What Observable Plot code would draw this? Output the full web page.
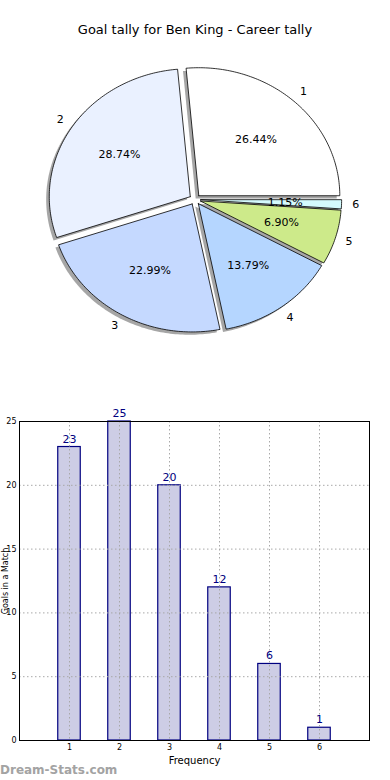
<!DOCTYPE html>
<html>
<head>
<meta charset="utf-8">
<script src="https://cdn.jsdelivr.net/npm/d3@7"></script>
<script src="https://cdn.jsdelivr.net/npm/@observablehq/plot@0.6"></script>
<style>
  html, body { margin: 0; padding: 0; background: #fff; }
  #page { position: relative; width: 390px; height: 780px; overflow: hidden; font-family: "DejaVu Sans", sans-serif; }
  #title { position: absolute; left: 0; top: 22px; width: 390px; text-align: center; font-size: 13px; line-height: 16px; color: #000; }
  #pie { position: absolute; left: 0; top: 0; }
  #bars { position: absolute; left: 0; top: 380px; }
  #ylabel { position: absolute; left: 5px; top: 581px; transform: translate(-50%, -50%) rotate(-90deg); font-size: 8px; line-height: 9px; white-space: nowrap; color: #000; }
  #mark { position: absolute; left: 0px; top: 763px; font-size: 12px; font-weight: bold; color: #a3a3a3; }
</style>
</head>
<body>
<div id="page">
  <div id="pie"></div>
  <div id="bars"></div>
  <div id="title">Goal tally for Ben King - Career tally</div>
  <div id="ylabel">Goals in a Match</div>
  <div id="mark">Dream-Stats.com</div>
</div>
<script>
// ---- data ----
const goalCounts = ["1", "2", "3", "4", "5", "6"];
const frequency = [23, 25, 20, 12, 6, 1];
const sliceColors = ["#ffffff", "#eaf1ff", "#c5d9ff", "#b5d6ff", "#cdea8a", "#d4fafd"];
const yTicks = [0, 5, 10, 15, 20, 25];

// ---- pie geometry (matplotlib-style: start east, counter-clockwise) ----
const total = d3.sum(frequency);
const explode = 0.04;
const sliceRows = [];
const shadowRows = [];
const labelRows = [];
const pctRows = [];
let acc = 0;
frequency.forEach((v, i) => {
  const a0 = acc / total * 2 * Math.PI;
  acc += v;
  const a1 = acc / total * 2 * Math.PI;
  const mid = (a0 + a1) / 2;
  const ox = explode * Math.cos(mid), oy = explode * Math.sin(mid);
  const n = Math.max(4, Math.ceil((a1 - a0) / (Math.PI / 180)));
  const pts = [[ox, oy]];
  for (let k = 0; k <= n; k++) {
    const a = a0 + (a1 - a0) * k / n;
    pts.push([ox + Math.cos(a), oy + Math.sin(a)]);
  }
  pts.push([ox, oy]);
  pts.forEach(([x, y]) => {
    sliceRows.push({slice: goalCounts[i], x, y});
    shadowRows.push({slice: goalCounts[i], x: x - 0.022, y: y - 0.022});
  });
  labelRows.push({text: goalCounts[i], x: ox + 1.1 * Math.cos(mid), y: oy + 1.1 * Math.sin(mid)});
  pctRows.push({text: (v / total * 100).toFixed(2) + "%", x: ox + 0.6 * Math.cos(mid), y: oy + 0.6 * Math.sin(mid)});
});

const cx = 194.5, cy = 199, sx = 141, sy = 128, pieH = 380;
const pie = Plot.plot({
  width: 390, height: pieH,
  margin: 0,
  x: {axis: null, domain: [-cx / sx, (390 - cx) / sx]},
  y: {axis: null, domain: [-(pieH - cy) / sy, cy / sy]},
  color: {domain: goalCounts, range: sliceColors},
  style: {fontFamily: "DejaVu Sans", fontSize: "11px", background: "transparent"},
  marks: [
    Plot.line(shadowRows, {x: "x", y: "y", z: "slice", fill: "#4d4d4d", fillOpacity: 0.5, stroke: "none"}),
    Plot.line(sliceRows, {x: "x", y: "y", z: "slice", fill: "slice", stroke: "#000", strokeWidth: 0.8, strokeLinejoin: "round"}),
    Plot.text(labelRows, {x: "x", y: "y", text: "text", fill: "#000", fontSize: 11}),
    Plot.text(pctRows, {x: "x", y: "y", text: "text", fill: "#000", fontSize: 11})
  ]
});
document.getElementById("pie").appendChild(pie);

// ---- bar chart ----
const barRows = frequency.map((v, i) => ({k: +goalCounts[i], v}));
const bars = Plot.plot({
  width: 390, height: 400,
  marginTop: 41, marginBottom: 40, marginLeft: 19, marginRight: 21,
  x: {domain: [0, 7], axis: null},
  y: {domain: [0, 25], axis: null},
  style: {fontFamily: "DejaVu Sans", fontSize: "8px", background: "transparent"},
  marks: [
    Plot.rect(barRows, {x1: d => d.k - 0.225, x2: d => d.k + 0.225, y1: 0, y2: "v", fill: "#cdcde5", stroke: "#000080", strokeWidth: 1.2}),
    Plot.ruleX(goalCounts.map(Number), {stroke: "#a8a8a8", strokeDasharray: "1.5,2.5", strokeWidth: 1}),
    Plot.ruleY(yTicks.slice(1), {stroke: "#a8a8a8", strokeDasharray: "1.5,2.5", strokeWidth: 1}),
    Plot.text(barRows, {x: "k", y: "v", text: d => String(d.v), dy: -8, fill: "#000080", fontSize: 11}),
    Plot.axisX(goalCounts.map(Number), {tickSize: 0, tickPadding: 4, label: null, fill: "#000", fontSize: 8}),
    Plot.axisY(yTicks, {tickSize: 0, tickPadding: 3, label: null, fill: "#000", fontSize: 8}),
    Plot.frame({stroke: "#000", strokeWidth: 1}),
    Plot.text(["Frequency"], {frameAnchor: "bottom", dy: 23, fontSize: 10, fill: "#000"})
  ]
});
document.getElementById("bars").appendChild(bars);
</script>
</body>
</html>
